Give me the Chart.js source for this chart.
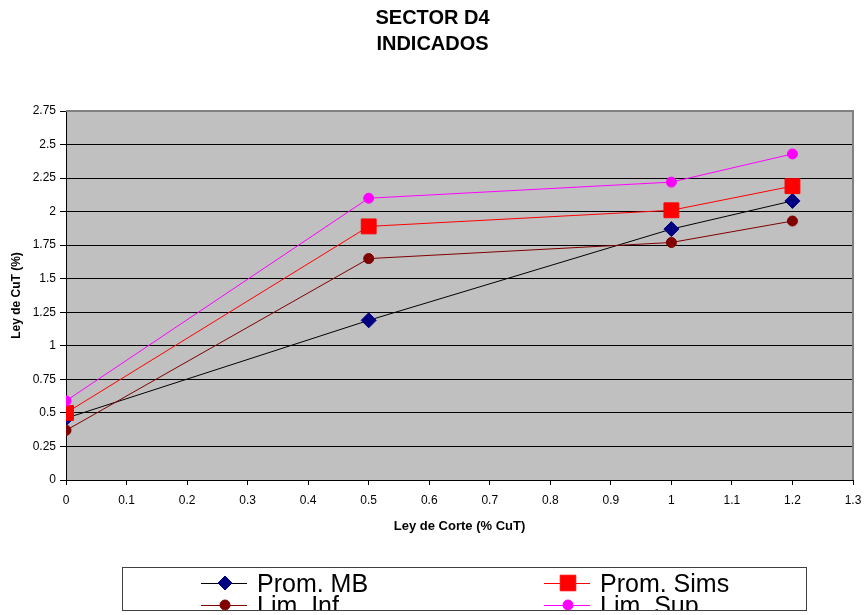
<!DOCTYPE html>
<html>
<head>
<meta charset="utf-8">
<script src="https://cdn.jsdelivr.net/npm/chart.js@4"></script>
<style>
  html, body { margin: 0; padding: 0; background: #ffffff; }
  #wrap { width: 865px; height: 615px; position: relative; }
</style>
</head>
<body>
<div id="wrap"><canvas id="c" width="865" height="615"></canvas></div>
<script>
// Cut-off grades (% CuT) on the x axis
const cutoffs = [0, 0.5, 1, 1.2];

// Average grade above cut-off for each series (%)
const promMB   = [0.46, 1.19, 1.87, 2.08];
const promSims = [0.50, 1.89, 2.01, 2.19];
const limInf   = [0.37, 1.65, 1.77, 1.93];
const limSup   = [0.59, 2.10, 2.22, 2.43];

const seriesNames = ['Prom. MB', 'Prom. Sims', 'Lim. Inf', 'Lim. Sup'];

// Axis tick positions
const xTicks = [0, 0.1, 0.2, 0.3, 0.4, 0.5, 0.6, 0.7, 0.8, 0.9, 1, 1.1, 1.2, 1.3];
const yTicks = [0, 0.25, 0.5, 0.75, 1, 1.25, 1.5, 1.75, 2, 2.25, 2.5, 2.75];

const toPoints = vals => cutoffs.map((x, i) => ({ x: x, y: vals[i] }));

const FONT = "'Liberation Sans', Arial, sans-serif";

// Gray plot area with gray top/right frame
const plotBackground = {
  id: 'plotBackground',
  beforeDraw(chart) {
    const { ctx, chartArea: a } = chart;
    ctx.save();
    ctx.fillStyle = '#C0C0C0';
    ctx.fillRect(a.left, a.top, a.right - a.left, a.bottom - a.top);
    ctx.restore();
  },
  beforeDatasetsDraw(chart) {
    const { ctx, chartArea: a } = chart;
    ctx.save();
    ctx.strokeStyle = '#808080';
    ctx.lineWidth = 2;
    ctx.beginPath();
    ctx.moveTo(a.left, a.top);
    ctx.lineTo(a.right, a.top);
    ctx.lineTo(a.right, a.bottom);
    ctx.stroke();
    ctx.restore();
  }
};

// Boxed two-column legend under the chart
const boxLegend = {
  id: 'boxLegend',
  afterDraw(chart) {
    const ctx = chart.ctx;
    const box = { left: 122.5, top: 567.5, right: 806.5, bottom: 610.5 };
    const symX = [225, 568];
    const textX = [257, 600];
    const baseY = [592, 614];
    const midY = [583, 605];
    ctx.save();
    ctx.beginPath();
    ctx.rect(box.left, box.top, box.right - box.left, box.bottom - box.top);
    ctx.clip();
    chart.data.datasets.forEach((ds, i) => {
      const col = i % 2, row = Math.floor(i / 2);
      const cx = symX[col], cy = midY[row];
      ctx.strokeStyle = ds.borderColor;
      ctx.lineWidth = 1;
      ctx.beginPath();
      ctx.moveTo(cx - 24, cy + 0.5);
      ctx.lineTo(cx + 22, cy + 0.5);
      ctx.stroke();
      ctx.fillStyle = ds.pointBackgroundColor;
      ctx.strokeStyle = ds.pointBorderColor;
      Chart.helpers.drawPoint(ctx, {
        pointStyle: ds.pointStyle,
        radius: ds.legendRadius,
        rotation: 0,
        borderWidth: 1
      }, cx, cy);
      ctx.fillStyle = '#000000';
      ctx.font = '25px ' + FONT;
      ctx.textAlign = 'left';
      ctx.textBaseline = 'alphabetic';
      ctx.fillText(ds.label, textX[col], baseY[row]);
    });
    ctx.restore();
    ctx.save();
    ctx.strokeStyle = '#404040';
    ctx.lineWidth = 1;
    ctx.strokeRect(box.left, box.top, box.right - box.left, box.bottom - box.top);
    ctx.restore();
  }
};

const datasets = [
  {
    label: seriesNames[0], data: toPoints(promMB),
    borderColor: '#000000', borderWidth: 1,
    pointStyle: 'rectRot', pointRadius: 7.5, legendRadius: 7,
    pointBackgroundColor: '#000080', pointBorderColor: '#000080', pointBorderWidth: 1,
    order: 4
  },
  {
    label: seriesNames[1], data: toPoints(promSims),
    borderColor: '#FF0000', borderWidth: 1,
    pointStyle: 'rect', pointRadius: 10.5, legendRadius: 11,
    pointBackgroundColor: '#FF0000', pointBorderColor: '#FF0000', pointBorderWidth: 1,
    order: 3
  },
  {
    label: seriesNames[2], data: toPoints(limInf),
    borderColor: '#800000', borderWidth: 1,
    pointStyle: 'circle', pointRadius: 5, legendRadius: 5,
    pointBackgroundColor: '#800000', pointBorderColor: '#800000', pointBorderWidth: 1,
    order: 2
  },
  {
    label: seriesNames[3], data: toPoints(limSup),
    borderColor: '#FF00FF', borderWidth: 1,
    pointStyle: 'circle', pointRadius: 5, legendRadius: 5,
    pointBackgroundColor: '#FF00FF', pointBorderColor: '#FF00FF', pointBorderWidth: 1,
    order: 1
  }
];

new Chart(document.getElementById('c'), {
  type: 'line',
  data: { datasets: datasets },
  plugins: [plotBackground, boxLegend],
  options: {
    responsive: false,
    animation: false,
    devicePixelRatio: 1,
    layout: { padding: { left: 0, right: 0, top: 0, bottom: 81 } },
    elements: { line: { tension: 0, fill: false } },
    plugins: {
      legend: { display: false },
      tooltip: { enabled: false },
      title: {
        display: true,
        text: ['SECTOR D4', 'INDICADOS'],
        color: '#000000',
        font: { family: FONT, size: 20, weight: 'bold', lineHeight: '26px' },
        padding: { top: 5, bottom: 54 }
      }
    },
    scales: {
      x: {
        type: 'linear',
        min: 0, max: 1.3,
        afterFit(scale) {
          scale.height = 54;
          scale.paddingLeft = 0;
          scale.paddingRight = 0;
        },
        afterBuildTicks(scale) { scale.ticks = xTicks.map(v => ({ value: v })); },
        ticks: {
          color: '#000000',
          font: { family: FONT, size: 12 },
          padding: 8,
          maxRotation: 0,
          autoSkip: false,
          callback: v => String(v)
        },
        grid: {
          drawOnChartArea: false,
          drawTicks: true,
          tickLength: 5,
          color: '#000000'
        },
        border: { display: true, color: '#000000', width: 1 },
        title: {
          display: true,
          text: 'Ley de Corte (% CuT)',
          color: '#000000',
          font: { family: FONT, size: 13, weight: 'bold' },
          padding: { top: 0, bottom: 0 }
        }
      },
      y: {
        type: 'linear',
        min: 0, max: 2.75,
        afterFit(scale) { scale.width = 66; },
        afterBuildTicks(scale) { scale.ticks = yTicks.map(v => ({ value: v })); },
        ticks: {
          color: '#000000',
          font: { family: FONT, size: 12 },
          padding: 4,
          autoSkip: false,
          callback: v => String(v)
        },
        grid: {
          drawOnChartArea: true,
          drawTicks: true,
          tickLength: 6,
          color: '#000000'
        },
        border: { display: true, color: '#000000', width: 1 },
        title: {
          display: true,
          text: 'Ley de CuT (%)',
          color: '#000000',
          font: { family: FONT, size: 12, weight: 'bold' },
          padding: { top: 9.5, bottom: 0 }
        }
      },
      // empty margin on the right side of the plot
      yRight: {
        type: 'linear',
        position: 'right',
        display: true,
        afterFit(scale) { scale.width = 12; },
        ticks: { display: false },
        grid: { display: false, drawTicks: false },
        border: { display: false },
        title: { display: false }
      }
    }
  }
});
</script>
</body>
</html>
